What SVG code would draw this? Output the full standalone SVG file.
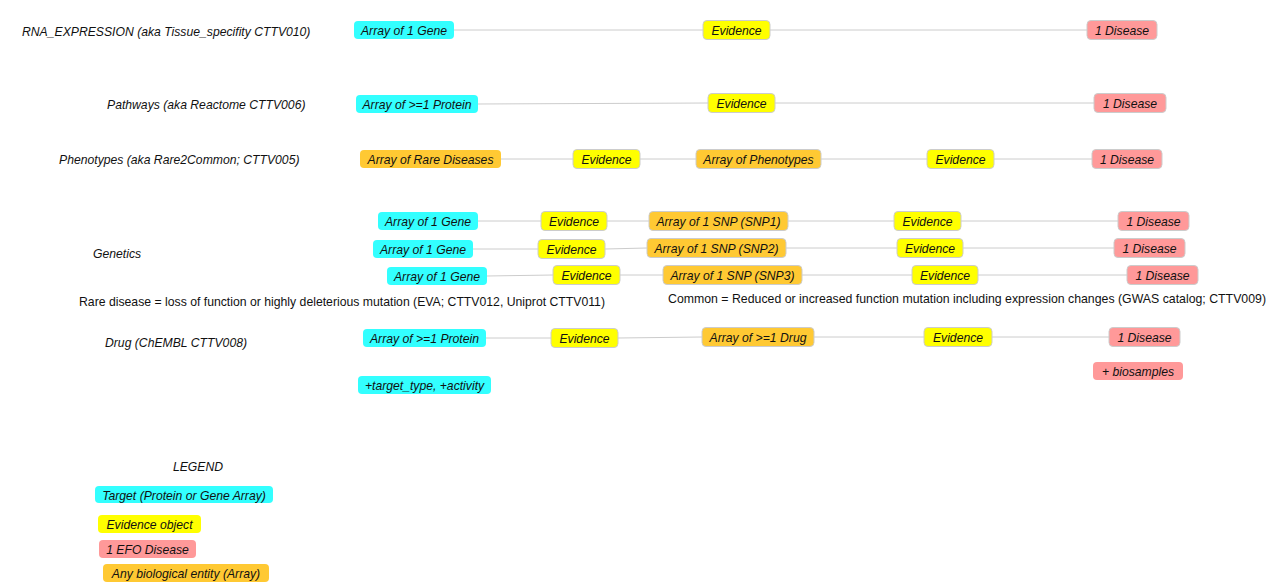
<svg xmlns="http://www.w3.org/2000/svg" width="1288" height="586" viewBox="0 0 1288 586">
<style>
text{font-family:"Liberation Sans",Arial,sans-serif;font-size:12.2px;fill:#111}
.i{font-style:italic}
.n text{font-style:italic;text-anchor:middle;dominant-baseline:central;transform:translateY(1px)}
.c rect{fill:#33ffff}
.y rect{fill:#ffff00;stroke:#cccccc;stroke-width:1}
.p rect{fill:#ff9999;stroke:#cccccc;stroke-width:1}
.o rect{fill:#ffc933;stroke:#cccccc;stroke-width:1}
.p.nb rect,.o.nb rect{stroke:none}
.e line{stroke:#cccccc;stroke-width:1}
</style>
<rect width="1288" height="586" fill="#ffffff"/>
<g id="connectors" class="e">
<line x1="454" y1="30" x2="703" y2="30"/>
<line x1="770" y1="30" x2="1087" y2="30"/>
<line x1="478" y1="104" x2="708" y2="103"/>
<line x1="775" y1="103" x2="1094" y2="103"/>
<line x1="501" y1="159" x2="573" y2="159"/>
<line x1="640" y1="159" x2="696" y2="159"/>
<line x1="821" y1="159" x2="927" y2="159"/>
<line x1="994" y1="159" x2="1092" y2="159"/>
<line x1="478" y1="221" x2="541" y2="221"/>
<line x1="607" y1="221" x2="649" y2="221"/>
<line x1="788" y1="221" x2="894" y2="221"/>
<line x1="961" y1="221" x2="1118" y2="221"/>
<line x1="473" y1="249" x2="538" y2="249"/>
<line x1="605" y1="249" x2="647" y2="248"/>
<line x1="786" y1="248" x2="897" y2="248"/>
<line x1="963" y1="248" x2="1114" y2="248"/>
<line x1="487" y1="276" x2="553" y2="275"/>
<line x1="620" y1="275" x2="663" y2="275"/>
<line x1="802" y1="275" x2="912" y2="275"/>
<line x1="978" y1="275" x2="1127" y2="275"/>
<line x1="486" y1="338" x2="551" y2="338"/>
<line x1="618" y1="338" x2="702" y2="337"/>
<line x1="814" y1="337" x2="924" y2="337"/>
<line x1="992" y1="337" x2="1109" y2="337"/>
</g>
<g id="labels">
<text class="i" x="22" y="36">RNA_EXPRESSION (aka Tissue_specifity CTTV010)</text>
<text class="i" x="107" y="109">Pathways (aka Reactome CTTV006)</text>
<text class="i" x="59" y="164">Phenotypes (aka Rare2Common; CTTV005)</text>
<text class="i" x="93" y="258">Genetics</text>
<text x="79" y="306" textLength="526" lengthAdjust="spacingAndGlyphs">Rare disease = loss of function or highly deleterious mutation (EVA; CTTV012, Uniprot CTTV011)</text>
<text x="668" y="303" textLength="598" lengthAdjust="spacingAndGlyphs">Common = Reduced or increased function mutation including expression changes (GWAS catalog; CTTV009)</text>
<text class="i" x="105" y="347">Drug (ChEMBL CTTV008)</text>
<text class="i" x="198" y="471" text-anchor="middle">LEGEND</text>
</g>
<g id="rna-gene" class="n c"><rect x="354" y="21" width="100" height="18" rx="4"/><text x="404" y="30">Array of 1 Gene</text></g>
<g id="rna-evidence" class="n y"><rect x="703" y="20.5" width="67" height="19" rx="4"/><text x="736.5" y="30">Evidence</text></g>
<g id="rna-disease" class="n p"><rect x="1087" y="20.5" width="70" height="19" rx="4"/><text x="1122" y="30">1 Disease</text></g>
<g id="pw-protein" class="n c"><rect x="356" y="95" width="122" height="18" rx="4"/><text x="417" y="104">Array of &gt;=1 Protein</text></g>
<g id="pw-evidence" class="n y"><rect x="708" y="93.5" width="67" height="19" rx="4"/><text x="741.5" y="103">Evidence</text></g>
<g id="pw-disease" class="n p"><rect x="1094" y="93.5" width="72" height="19" rx="4"/><text x="1130" y="103">1 Disease</text></g>
<g id="ph-rare" class="n o nb"><rect x="360" y="150" width="141" height="18" rx="4"/><text x="430.5" y="159">Array of Rare Diseases</text></g>
<g id="ph-evidence1" class="n y"><rect x="573" y="149.5" width="67" height="19" rx="4"/><text x="606.5" y="159">Evidence</text></g>
<g id="ph-phenotypes" class="n o"><rect x="696" y="149.5" width="125" height="19" rx="4"/><text x="758.5" y="159">Array of Phenotypes</text></g>
<g id="ph-evidence2" class="n y"><rect x="927" y="149.5" width="67" height="19" rx="4"/><text x="960.5" y="159">Evidence</text></g>
<g id="ph-disease" class="n p"><rect x="1092" y="149.5" width="70" height="19" rx="4"/><text x="1127" y="159">1 Disease</text></g>
<g id="g1-gene" class="n c"><rect x="378" y="212" width="100" height="18" rx="4"/><text x="428" y="221">Array of 1 Gene</text></g>
<g id="g1-evidence1" class="n y"><rect x="541" y="211.5" width="66" height="19" rx="4"/><text x="574" y="221">Evidence</text></g>
<g id="g1-snp" class="n o"><rect x="649" y="211.5" width="139" height="19" rx="4"/><text x="718.5" y="221">Array of 1 SNP (SNP1)</text></g>
<g id="g1-evidence2" class="n y"><rect x="894" y="211.5" width="67" height="19" rx="4"/><text x="927.5" y="221">Evidence</text></g>
<g id="g1-disease" class="n p"><rect x="1118" y="211.5" width="71" height="19" rx="4"/><text x="1153.5" y="221">1 Disease</text></g>
<g id="g2-gene" class="n c"><rect x="373" y="240" width="100" height="18" rx="4"/><text x="423" y="249">Array of 1 Gene</text></g>
<g id="g2-evidence1" class="n y"><rect x="538" y="239.5" width="67" height="19" rx="4"/><text x="571.5" y="249">Evidence</text></g>
<g id="g2-snp" class="n o"><rect x="647" y="238.5" width="139" height="19" rx="4"/><text x="716.5" y="248">Array of 1 SNP (SNP2)</text></g>
<g id="g2-evidence2" class="n y"><rect x="897" y="238.5" width="66" height="19" rx="4"/><text x="930" y="248">Evidence</text></g>
<g id="g2-disease" class="n p"><rect x="1114" y="238.5" width="71" height="19" rx="4"/><text x="1149.5" y="248">1 Disease</text></g>
<g id="g3-gene" class="n c"><rect x="387" y="267" width="100" height="18" rx="4"/><text x="437" y="276">Array of 1 Gene</text></g>
<g id="g3-evidence1" class="n y"><rect x="553" y="265.5" width="67" height="19" rx="4"/><text x="586.5" y="275">Evidence</text></g>
<g id="g3-snp" class="n o"><rect x="663" y="265.5" width="139" height="19" rx="4"/><text x="732.5" y="275">Array of 1 SNP (SNP3)</text></g>
<g id="g3-evidence2" class="n y"><rect x="912" y="265.5" width="66" height="19" rx="4"/><text x="945" y="275">Evidence</text></g>
<g id="g3-disease" class="n p"><rect x="1127" y="265.5" width="71" height="19" rx="4"/><text x="1162.5" y="275">1 Disease</text></g>
<g id="dr-protein" class="n c"><rect x="363" y="329" width="123" height="18" rx="4"/><text x="424.5" y="338">Array of &gt;=1 Protein</text></g>
<g id="dr-evidence1" class="n y"><rect x="551" y="328.5" width="67" height="19" rx="4"/><text x="584.5" y="338">Evidence</text></g>
<g id="dr-drug" class="n o"><rect x="702" y="327.5" width="112" height="19" rx="4"/><text x="758" y="337">Array of &gt;=1 Drug</text></g>
<g id="dr-evidence2" class="n y"><rect x="924" y="327.5" width="68" height="19" rx="4"/><text x="958" y="337">Evidence</text></g>
<g id="dr-disease" class="n p"><rect x="1109" y="327.5" width="71" height="19" rx="4"/><text x="1144.5" y="337">1 Disease</text></g>
<g id="dr-target-extra" class="n c"><rect x="358" y="376" width="133" height="18" rx="4"/><text x="424.5" y="385">+target_type, +activity</text></g>
<g id="dr-biosamples" class="n p nb"><rect x="1093" y="362" width="90" height="18" rx="4"/><text x="1138" y="371">+ biosamples</text></g>
<g id="legend-target" class="n c"><rect x="95" y="486" width="178" height="17" rx="4"/><text x="184" y="494.5">Target (Protein or Gene Array)</text></g>
<g id="legend-evidence" class="n y"><rect x="98" y="515" width="103" height="18" rx="4" style="stroke:none"/><text x="149.5" y="524">Evidence object</text></g>
<g id="legend-disease" class="n p nb"><rect x="99" y="540" width="97" height="18" rx="4"/><text x="147.5" y="549">1 EFO Disease</text></g>
<g id="legend-entity" class="n o nb"><rect x="103" y="564" width="166" height="18" rx="4"/><text x="186" y="573">Any biological entity (Array)</text></g>
</svg>
